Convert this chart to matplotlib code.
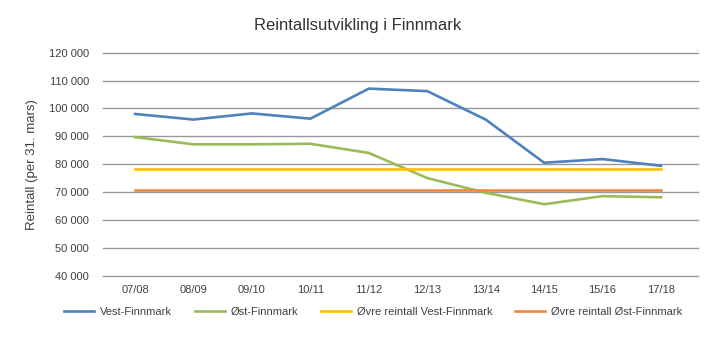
import matplotlib
matplotlib.use("Agg")
import matplotlib.pyplot as plt
from matplotlib.ticker import FuncFormatter

plt.rcParams["font.family"] = ["Liberation Sans", "DejaVu Sans"]

# Sesong (per 31. mars)
seasons = ["07/08", "08/09", "09/10", "10/11", "11/12", "12/13", "13/14", "14/15", "15/16", "17/18"]
vest = [98000, 96000, 98200, 96300, 107100, 106200, 96000, 80500, 81800, 79400]
ost = [89700, 87100, 87100, 87300, 84000, 75000, 69700, 65600, 68500, 68100]
ovre_vest = 78100
ovre_ost = 70700

fig = plt.figure(figsize=(7.23, 3.41), dpi=100)
ax = fig.add_axes([0.1425, 0.192, 0.8229, 0.6535])

x = list(range(len(seasons)))
ax.plot(x, vest, color="#4F81BD", lw=1.9, label="Vest-Finnmark", zorder=3)
ax.plot(x, ost, color="#9BBB59", lw=1.9, label="Øst-Finnmark", zorder=3)
ax.plot(x, [ovre_vest] * len(x), color="#FFC000", lw=1.9, label="Øvre reintall Vest-Finnmark", zorder=3)
ax.plot(x, [ovre_ost] * len(x), color="#F0873A", lw=1.9, label="Øvre reintall Øst-Finnmark", zorder=3)

ax.set_xlim(-0.548, 9.633)
ax.set_ylim(40000, 120000)
ax.set_yticks(range(40000, 120001, 10000))
ax.yaxis.set_major_formatter(FuncFormatter(lambda v, p: f"{int(v):,}".replace(",", " ")))
ax.set_xticks(x)
ax.set_xticklabels(seasons)
ax.tick_params(length=0, labelsize=8, colors="#404040")
ax.tick_params(axis="x", pad=7)
ax.tick_params(axis="y", pad=10)
ax.grid(axis="y", color="#999999", lw=1)
for gl in ax.get_ygridlines():
    gl.set_clip_on(False)
for s in ax.spines.values():
    s.set_visible(False)

ax.set_ylabel("Reintall (per 31. mars)", fontsize=9.5, color="#404040", labelpad=8)
fig.text(0.494, 0.925, "Reintallsutvikling i Finnmark", ha="center", va="center", fontsize=12, color="#333333")

ax.legend(loc="center", bbox_to_anchor=(0.516, 0.085), bbox_transform=fig.transFigure,
          ncol=4, frameon=False, fontsize=8, handlelength=2.7, columnspacing=2.0,
          handletextpad=0.55, labelcolor="#404040")

fig.savefig("out.png", dpi=100)
